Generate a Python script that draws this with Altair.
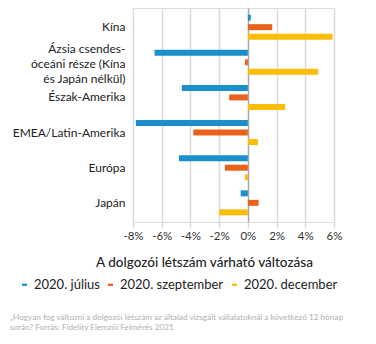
import altair as alt
import pandas as pd

regions = ["Kína", "Ázsia csendes-|óceáni része (Kína|és Japán nélkül)", "Észak-Amerika",
           "EMEA/Latin-Amerika", "Európa", "Japán"]
series = ["2020. július", "2020. szeptember", "2020. december"]
julius = [0.2, -6.5, -4.6, -7.8, -4.8, -0.5]
szeptember = [1.7, -0.2, -1.3, -3.8, -1.6, 0.75]
december = [5.9, 4.9, 2.6, 0.7, -0.2, -2.0]
colors = ["#1a8fc9", "#e8621b", "#fbbd0a"]
ticks = [-8, -6, -4, -2, 0, 2, 4, 6]
axis_title = "A dolgozói létszám várható változása"
footnote = ["„Hogyan fog változni a dolgozói létszám az általad vizsgált vállalatoknál a következő 12 hónap",
            "során? Forrás: Fidelity Elemzői Felmérés 2021"]

rows = []
for i, r in enumerate(regions):
    for s, vals in zip(series, [julius, szeptember, december]):
        rows.append({"region": r, "series": s, "value": vals[i]})
df = pd.DataFrame(rows)

FONT = "Lato"
xscale = alt.Scale(domain=[-8, 6], nice=False)

bars = alt.Chart(df).mark_bar(size=6).encode(
    x=alt.X("value:Q", scale=xscale,
            axis=alt.Axis(values=ticks, labelExpr="datum.value + '%'", grid=True,
                          labelOverlap=False, labelFlush=False,
                          gridColor={"condition": {"test": "datum.value === 0", "value": "#a8a8a8"},
                                     "value": "#dadada"},
                          gridWidth=1.5, domain=False,
                          tickColor="#dadada", tickWidth=1.5, tickSize=6, labelPadding=2,
                          labelFontSize=11.5, labelColor="#333", labelFont=FONT,
                          title=axis_title, titleFont=FONT, titleFontSize=13.5,
                          titleFontWeight=500, titleColor="#222",
                          titleX=71, titleY=40, titleAlign="center", titleBaseline="middle")),
    y=alt.Y("region:N", sort=regions,
            scale=alt.Scale(paddingInner=0.232, paddingOuter=0.161),
            axis=alt.Axis(title=None, ticks=False, domain=False, grid=False,
                          labelExpr="split(datum.label, '|')", labelLineHeight=15,
                          labelOffset={"condition": {"test": "indexof(datum.label, '|') >= 0", "value": -13}, "value": 0},
                          labelFontSize=12, labelColor="#222", labelFont=FONT,
                          labelPadding=8, labelAlign="right")),
    yOffset=alt.YOffset("series:N", sort=series,
                        scale=alt.Scale(paddingInner=0.37, paddingOuter=0.105)),
    color=alt.Color("series:N", sort=series,
                    scale=alt.Scale(domain=series, range=colors),
                    legend=alt.Legend(title=None, orient="none", direction="horizontal",
                                      legendX=-115, legendY=270,
                                      symbolType="M-1,-0.45L1,-0.45L1,0.45L-1,0.45Z",
                                      symbolSize=25, symbolStrokeWidth=0,
                                      labelFontSize=13, labelFont=FONT, labelColor="#222",
                                      columnPadding=4, labelOffset=3)),
)

foot = alt.Chart(pd.DataFrame({"t": [footnote]})).mark_text(
    align="left", baseline="middle", fontSize=8.2, color="#b0b0b0", font=FONT, lineHeight=10
).encode(text="t:N", x=alt.value(-123), y=alt.value(310))

chart = alt.layer(bars, foot).properties(
    width=201, height=214,
    autosize=alt.AutoSizeParams(type="none"),
    padding={"left": 133, "top": 8, "right": 42, "bottom": 122},
).configure_view(stroke=None).configure(background="white")

chart.save("out.html", embed_options={"renderer": "svg", "actions": False})
